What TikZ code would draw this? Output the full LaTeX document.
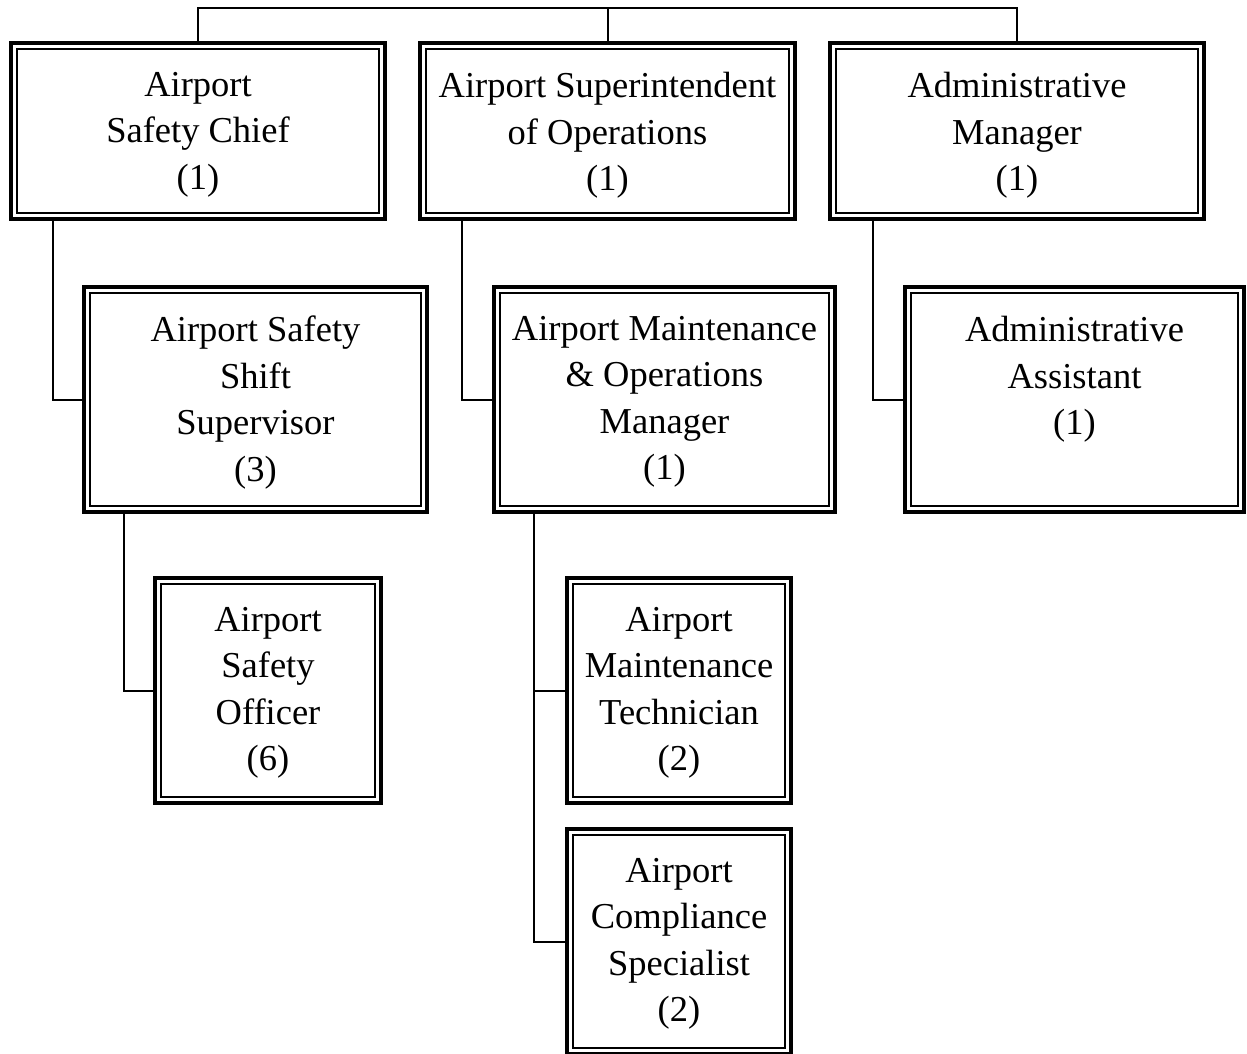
\documentclass[tikz,border=0pt]{standalone}
\usepackage{fontspec}
\setmainfont{Liberation Serif}
\begin{document}
\begin{tikzpicture}[x=1pt,y=-1pt,
  orgbox/.style={draw, line width=4pt, inner sep=0pt, rectangle,
    path picture={\draw[line width=1.3pt]
      ([shift={(6pt,-6pt)}]path picture bounding box.north west) rectangle
      ([shift={(-6pt,6pt)}]path picture bounding box.south east);}},
  lbl/.style={anchor=north, inner sep=0pt, align=center,
    font=\fontsize{36.5}{46.5}\selectfont},
  conn/.style={line width=2pt}]
\useasboundingbox (0,0) rectangle (1247,1053);
% top row
\node[orgbox, minimum width=374pt, minimum height=176pt] (b1) at (198,131) {};
\node[orgbox, minimum width=375pt, minimum height=176pt] (b2) at (607.5,131) {};
\node[orgbox, minimum width=374pt, minimum height=176pt] (b3) at (1017,131) {};
% second row
\node[orgbox, minimum width=343pt, minimum height=225pt] (b4) at (255.5,399.5) {};
\node[orgbox, minimum width=341pt, minimum height=225pt] (b5) at (664.5,399.5) {};
\node[orgbox, minimum width=339pt, minimum height=225pt] (b6) at (1074.5,399.5) {};
% third row
\node[orgbox, minimum width=226pt, minimum height=225pt] (b7) at (268,690.5) {};
\node[orgbox, minimum width=224pt, minimum height=225pt] (b8) at (679,690.5) {};
\node[orgbox, minimum width=224pt, minimum height=225pt] (b9) at (679,941.5) {};
% texts
\node[lbl] (t1) at ([yshift=-31pt]b1.north) {Airport\\Safety Chief\\(1)};
\node[lbl] (t2) at ([yshift=-31pt]b2.north) {Airport Superintendent\\of Operations\\(1)};
\node[lbl] (t3) at ([yshift=-31pt]b3.north) {Administrative\\Manager\\(1)};
\node[lbl] (t4) at ([yshift=-31pt]b4.north) {Airport Safety\\Shift\\Supervisor\\(3)};
\node[lbl] (t5) at ([yshift=-31pt]b5.north) {Airport Maintenance\\\& Operations\\Manager\\(1)};
\node[lbl] (t6) at ([yshift=-31pt]b6.north) {Administrative\\Assistant\\(1)};
\node[lbl] (t7) at ([yshift=-31pt]b7.north) {Airport\\Safety\\Officer\\(6)};
\node[lbl] (t8) at ([yshift=-31pt]b8.north) {Airport\\Maintenance\\Technician\\(2)};
\node[lbl] (t9) at ([yshift=-31pt]b9.north) {Airport\\Compliance\\Specialist\\(2)};
% top connector
\coordinate (top) at (607.5,8);
\draw[conn] (b1.north) -- (b1.north |- top) -- (b3.north |- top) -- (b3.north);
\draw[conn] (b2.north) -- (top);
% tree connectors
\draw[conn] ([xshift=44pt]b1.south west) |- (b4.west);
\draw[conn] ([xshift=44pt]b2.south west) |- (b5.west);
\draw[conn] ([xshift=45pt]b3.south west) |- (b6.west);
\draw[conn] ([xshift=42pt]b4.south west) |- (b7.west);
\draw[conn] ([xshift=42pt]b5.south west) |- (b8.west);
\draw[conn] ([xshift=42pt]b5.south west) |- (b9.west);
\end{tikzpicture}
\end{document}
